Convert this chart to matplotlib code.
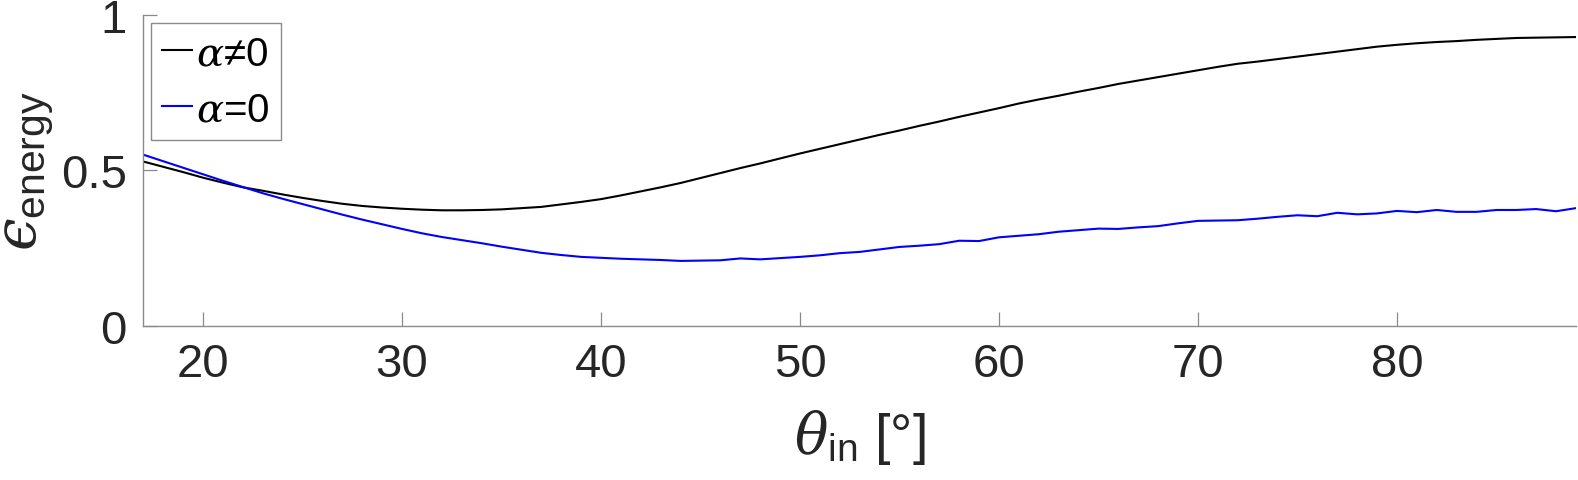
import matplotlib.pyplot as plt

plt.rcParams['font.family'] = ['Liberation Sans', 'DejaVu Sans']
plt.rcParams['mathtext.fontset'] = 'custom'
plt.rcParams['mathtext.rm'] = 'Liberation Sans'
plt.rcParams['mathtext.it'] = 'DejaVu Serif:italic'
plt.rcParams['mathtext.bf'] = 'Liberation Sans:bold'

theta_in = list(range(17, 90))

eps_alpha_nonzero = [
    0.528, 0.511, 0.494, 0.476, 0.460, 0.445, 0.434, 0.422, 0.411, 0.401,
    0.392, 0.385, 0.380, 0.376, 0.373, 0.371, 0.371, 0.372, 0.374, 0.378,
    0.382, 0.390, 0.398, 0.407, 0.419, 0.432, 0.445, 0.459, 0.475, 0.491,
    0.507, 0.522, 0.538, 0.554, 0.569, 0.584, 0.599, 0.614, 0.628, 0.643,
    0.657, 0.672, 0.686, 0.700, 0.715, 0.728, 0.740, 0.753, 0.765, 0.778,
    0.789, 0.800, 0.811, 0.822, 0.833, 0.843, 0.850, 0.858, 0.866, 0.874,
    0.882, 0.890, 0.898, 0.904, 0.909, 0.913, 0.916, 0.920, 0.923, 0.926,
    0.927, 0.928, 0.929,
]

eps_alpha_zero = [
    0.550, 0.529, 0.508, 0.487, 0.466, 0.446, 0.426, 0.408, 0.391, 0.374,
    0.357, 0.341, 0.326, 0.311, 0.297, 0.285, 0.275, 0.265, 0.254, 0.244,
    0.234, 0.227, 0.221, 0.218, 0.215, 0.213, 0.211, 0.208, 0.209, 0.210,
    0.216, 0.213, 0.217, 0.221, 0.226, 0.233, 0.237, 0.245, 0.253, 0.257,
    0.262, 0.273, 0.272, 0.284, 0.289, 0.294, 0.302, 0.307, 0.312, 0.311,
    0.316, 0.320, 0.329, 0.337, 0.338, 0.339, 0.344, 0.350, 0.355, 0.352,
    0.363, 0.358, 0.361, 0.369, 0.365, 0.372, 0.366, 0.366, 0.372, 0.372,
    0.375, 0.368, 0.378,
]

x_ticks = [20, 30, 40, 50, 60, 70, 80]
y_ticks = [0, 0.5, 1]
y_tick_labels = ['0', '0.5', '1']

text_col = '#262626'
axis_col = '#8a8a8a'

W, H = 1578, 481
fig = plt.figure(figsize=(W / 100, H / 100), dpi=100)
ax = fig.add_axes([143.4 / W, 1 - 326.5 / H, (1576 - 143.4) / W, (326.5 - 16) / H])

ax.plot(theta_in, eps_alpha_nonzero, color='black', lw=1.5, label=r'$\alpha$≠0')
ax.plot(theta_in, eps_alpha_zero, color='#0000ff', lw=1.5, label=r'$\alpha$=0')

ax.set_xlim(17, 89)
ax.set_ylim(0, 1)
ax.set_xticks(x_ticks)
ax.set_yticks(y_ticks)
ax.set_yticklabels(y_tick_labels)

for side in ['top', 'right']:
    ax.spines[side].set_visible(False)
for side in ['left', 'bottom']:
    ax.spines[side].set_color(axis_col)
    ax.spines[side].set_linewidth(1.0)

ax.tick_params(direction='in', length=10, width=0.9, color=axis_col,
               labelcolor=text_col, labelsize=34)
ax.tick_params(axis='x', pad=12)
ax.tick_params(axis='y', pad=12)

ax.set_xlabel(r'$\theta_{\mathrm{in}}$ [°]', fontsize=40, color=text_col, labelpad=15)
ax.set_ylabel('$\u03f5_{\\mathrm{energy}}$', fontsize=42, color=text_col, labelpad=4)

leg = ax.legend(loc='upper left', bbox_to_anchor=(151 / W, 1 - 24 / H),
                bbox_transform=fig.transFigure, borderaxespad=0,
                fontsize=29, handlelength=0.75, handletextpad=0.08,
                borderpad=0.28, labelspacing=0.45, fancybox=False,
                framealpha=1)
leg.get_frame().set_edgecolor(axis_col)
leg.get_frame().set_linewidth(1.0)

fig.savefig('out.png', dpi=100)
